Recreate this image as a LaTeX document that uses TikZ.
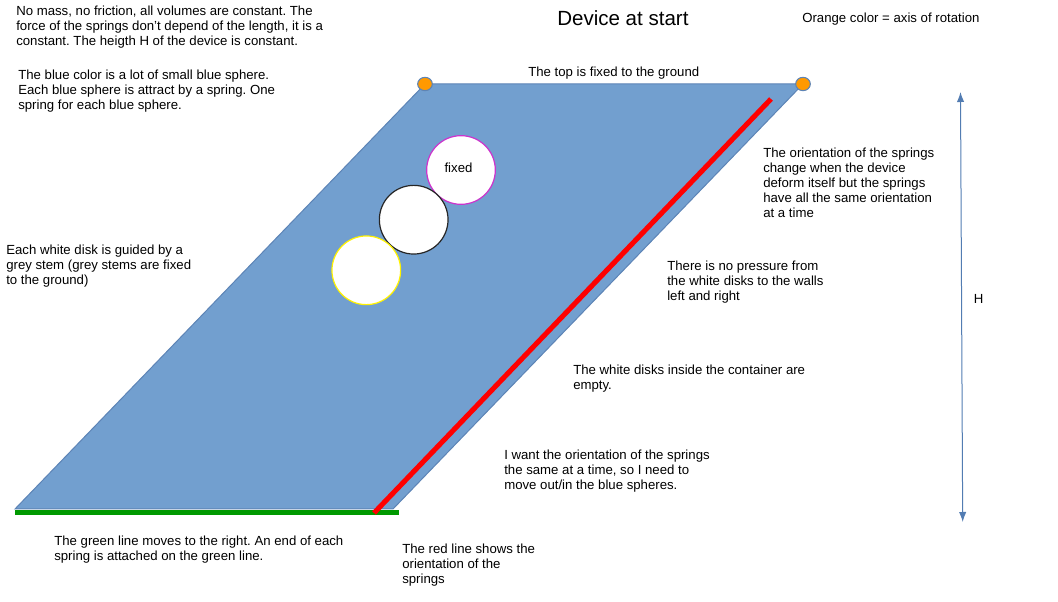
\documentclass[tikz,border=0pt]{standalone}
\usepackage{fontspec}
\setmainfont{Liberation Sans}
\usetikzlibrary{arrows.meta,shapes.geometric}
\definecolor{bluefill}{HTML}{729FCF}
\definecolor{blueline}{HTML}{3465A4}
\definecolor{orangefill}{HTML}{FF9900}
\definecolor{greenline}{HTML}{009900}
\definecolor{pinkline}{HTML}{CC33CC}
\tikzset{
  descr/.style={anchor=north west,align=left,inner sep=0pt,font=\fontsize{9.9pt}{11.25pt}\selectfont},
  disk/.style={circle,draw=#1,fill=white,line width=0.9pt,minimum size=51.5pt,inner sep=0pt},
  pivot/.style={ellipse,draw=blueline!80,fill=orangefill,line width=0.8pt,minimum width=11pt,minimum height=10pt,inner sep=0pt}
}
\frenchspacing
\begin{document}
\begin{tikzpicture}[x=0.75pt,y=-0.75pt]
  \useasboundingbox (0,0) rectangle (1058,602);
  % container
  \coordinate (bl) at (15,509);
  \coordinate (tl) at (425,84);
  \coordinate (tr) at (803,84);
  \coordinate (br) at (393,509);
  \draw[blueline!80,fill=bluefill,line width=0.75pt] (bl) -- (tl) -- (tr) -- (br) -- cycle;
  %green and red lines
  \coordinate (gl) at (15,512.3);
  \coordinate (gr) at (399,512.3);
  \coordinate (rl) at (374,513);
  \coordinate (rr) at (771,99);
  \draw[greenline,line width=3.4pt] (gl) -- (gr);
  \draw[red,line width=3.8pt] (rl) -- (rr);
  % disks
  \node[disk=pinkline] (dfix) at (461,170) {};
  \node[disk=black!85] (dmid) at (413.7,219.7) {};
  \node[disk=yellow] (dlow) at (366.3,270.3) {};
  \node[font=\fontsize{9.9pt}{11.25pt}\selectfont] (lfix) at (458.5,168) {fixed};
  \node[pivot] (pl) at (425,84) {};
  \node[pivot] (pr) at (803,84) {};
  % height
  \coordinate (ht) at (960.5,92);
  \coordinate (hb) at (962.7,522);
  \draw[{Latex[length=7.5pt,width=5.5pt]}-{Latex[length=7.5pt,width=5.5pt]},blueline!85,line width=0.75pt] (ht) -- (hb);
  \node[descr] (lh) at (973.5,294) {H};
  % texts
  \node[anchor=north west,inner sep=0pt,font=\fontsize{15.4pt}{18pt}\selectfont] (title) at (557,10) {Device at start};
  \node[descr] (laxis) at (802,13) {Orange color = axis of rotation};
  \node[descr] (lmass) at (16,6) {No mass, no friction, all volumes are constant. The\\force of the springs don’t depend of the length, it is a\\constant. The heigth H of the device is constant.};
  \node[descr] (lblue) at (18,69.5) {The blue color is a lot of small blue sphere.\\Each blue sphere is attract by a spring. One\\spring for each blue sphere.};
  \node[descr] (ltop) at (528,66.5) {The top is fixed to the ground};
  \node[descr] (lstem) at (6,244.5) {Each white disk is guided by a\\grey stem (grey stems are fixed\\to the ground)};
  \node[descr] (lorient) at (763,148) {The orientation of the springs\\change when the device\\deform itself but the springs\\have all the same orientation\\at a time};
  \node[descr] (lpress) at (667,260.5) {There is no pressure from\\the white disks to the walls\\left and right};
  \node[descr] (lempty) at (573,364.5) {The white disks inside the container are\\empty.};
  \node[descr] (lwant) at (504,449.5) {I want the orientation of the springs\\the same at a time, so I need to\\move out/in the blue spheres.};
  \node[descr] (lgreen) at (54,536) {The green line moves to the right. An end of each\\spring is attached on the green line.};
  \node[descr] (lred) at (402,543.5) {The red line shows the\\orientation of the\\springs};
\end{tikzpicture}
\end{document}
